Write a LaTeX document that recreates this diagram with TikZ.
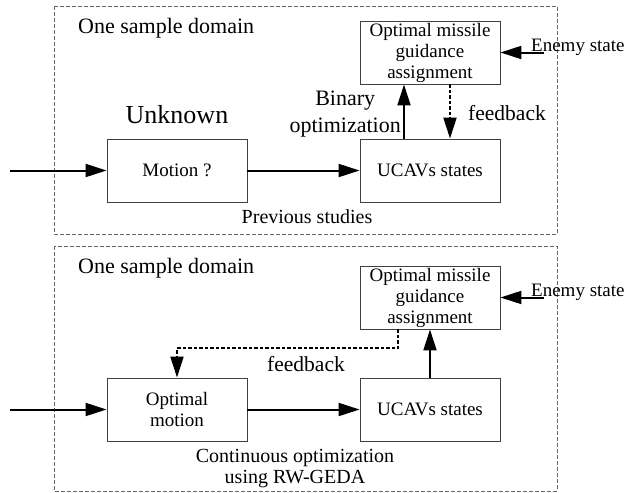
\documentclass[tikz,border=0pt]{standalone}
\usepackage{fontspec}
\setmainfont{Liberation Serif}
\usetikzlibrary{arrows.meta}
\tikzset{
  block/.style={draw=black!75, line width=0.9pt, minimum width=140pt, minimum height=63pt,
    inner sep=0pt, align=center, font=\fontsize{19}{21}\selectfont},
  dombox/.style={draw=black!60, line width=0.8pt, dash pattern=on 4pt off 2pt},
  arr/.style={line width=2pt, -{Triangle[length=21pt,width=13pt]}},
  fb/.style={arr, dash pattern=on 3.5pt off 2pt},
  lbl/.style={font=\fontsize{20}{21}\selectfont, align=center, inner sep=0pt}
}
\begin{document}
\begin{tikzpicture}[x=1pt,y=-1pt]
  \useasboundingbox (0,0) rectangle (633,493);

  % previous studies
  \draw[dombox] (54,6) rectangle (557,234);
  \node[lbl, font=\fontsize{22}{24}\selectfont, anchor=west] (dom1) at (78,28) {One sample domain};
  \node[block] (miss1) at (430,52.5) {Optimal missile\\guidance\\assignment};
  \node[block] (mot1) at (177,170.5) {Motion ?};
  \node[block] (ucav1) at (430,170.5) {UCAVs states};
  \node[lbl, font=\fontsize{26}{28}\selectfont] (unk) at (177,115) {Unknown};
  \node[lbl, font=\fontsize{19}{20}\selectfont, anchor=west] (en1) at (531,47) {Enemy state};
  \coordinate (e1) at (544,52.5);
  \coordinate (in1) at (10,170.5);

  \draw[arr] (e1) -- (miss1);
  \draw[arr] (in1) -- (mot1);
  \draw[arr] (mot1) -- (ucav1);
  \draw[arr] ([xshift=-26pt]ucav1.north) -- ([xshift=-26pt]ucav1.north |- miss1.south);
  \draw[fb] ([xshift=20pt]miss1.south) -- ([xshift=20pt]miss1.south |- ucav1.north);

  \node[lbl, font=\fontsize{22}{27}\selectfont, anchor=east] (bin) at (401,114) {Binary\\optimization};
  \node[lbl, font=\fontsize{21.5}{24}\selectfont] (fb1) at (507,113) {feedback};
  \node[lbl] (prev) at (307,217) {Previous studies};

  % proposed method
  \draw[dombox] (54,246) rectangle (557,491);
  \node[lbl, font=\fontsize{22}{24}\selectfont, anchor=west] (dom2) at (78,268) {One sample domain};
  \node[block] (miss2) at (430,297.5) {Optimal missile\\guidance\\assignment};
  \node[block] (mot2) at (177,409.5) {Optimal\\motion};
  \node[block] (ucav2) at (430,409.5) {UCAVs states};
  \node[lbl, font=\fontsize{19}{20}\selectfont, anchor=west] (en2) at (531,292) {Enemy state};
  \coordinate (e2) at (544,297.5);
  \coordinate (in2) at (10,409.5);

  \draw[arr] (e2) -- (miss2);
  \draw[arr] (in2) -- (mot2);
  \draw[arr] (mot2) -- (ucav2);
  \draw[arr] (ucav2) -- (miss2);
  \draw[fb] ([xshift=-32pt]miss2.south) -- ++(0,19) -| (mot2.north);

  \node[lbl, font=\fontsize{21.5}{24}\selectfont] (fb2) at (306,364) {feedback};
  \node[lbl] (cont) at (295,468.5) {Continuous optimization\\using RW-GEDA};
\end{tikzpicture}
\end{document}
